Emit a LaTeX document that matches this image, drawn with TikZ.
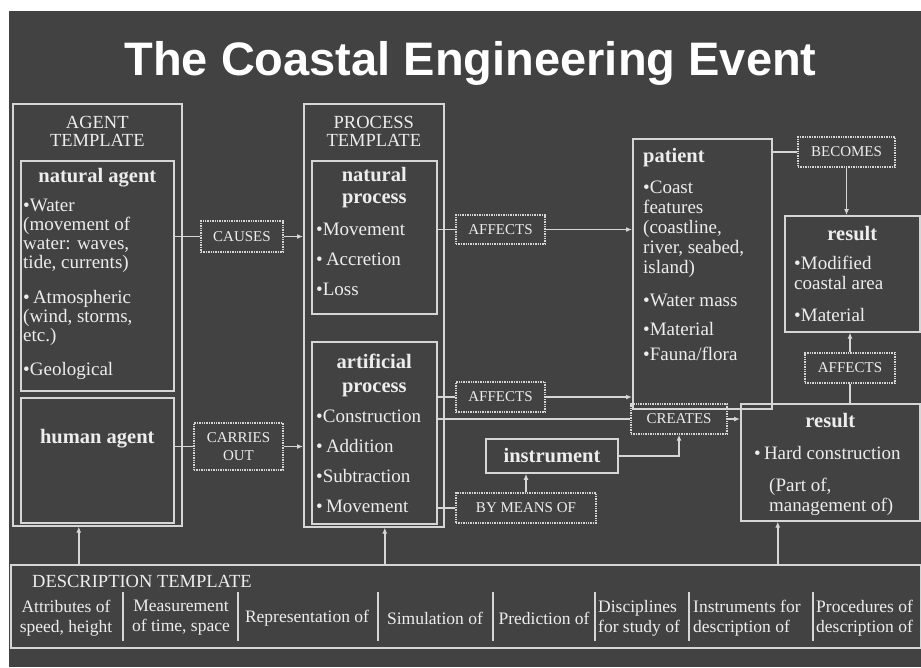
\documentclass[tikz,border=0pt]{standalone}
\usepackage{fontspec}
\setmainfont{Liberation Serif}
\newfontfamily\titlefamily{Liberation Sans}
\usetikzlibrary{arrows.meta,positioning}
\definecolor{CEBack}{HTML}{424242}
\definecolor{CELine}{HTML}{D6D6D6}
\definecolor{CEText}{HTML}{EDEDED}
\newcommand\CEtitle{\titlefamily\bfseries\fontsize{47}{50}\selectfont}
\newcommand\CEcaps{\fontsize{18.5}{18}\selectfont}
\newcommand\CEhead{\bfseries\fontsize{20.5}{22}\selectfont}
\newcommand\CEbody{\fontsize{19}{19}\selectfont}
\newcommand\CErel{\fontsize{15}{18}\selectfont}
\newcommand\CEcell{\fontsize{17.5}{20}\selectfont}

\begin{document}
\begin{tikzpicture}[x=1pt,y=-1pt,
  tbox/.style={draw=CELine,line width=1.6pt,inner sep=0pt,anchor=north west},
  rel/.style={draw=CELine,densely dotted,line width=1.4pt,inner sep=0pt,font=\CErel,text=CEText,align=center},
  hd/.style={font=\CEhead,text=CEText,inner sep=0pt,align=center},
  capslbl/.style={font=\CEcaps,text=CEText,inner sep=0pt,align=center,anchor=north},
  items/.style={font=\CEbody,text=CEText,inner sep=0pt,align=left,anchor=north west},
  cell/.style={font=\CEcell,text=CEText,inner sep=0pt},
  conn/.style={draw=CELine,line width=1.4pt},
  arr/.style={conn,-{Latex[length=6pt,width=5pt]}}
]
  \useasboundingbox (0,0) rectangle (921,667);
  \fill[white] (0,0) rectangle (921,667);
  \fill[CEBack] (9,11) rectangle (921,667);
  \node[font=\CEtitle,text=white,anchor=base] (title) at (470.5,75) {The Coastal Engineering Event};

  % agent template
  \node[tbox,minimum width=169,minimum height=422] (agent) at (12,103) {};
  \node[capslbl] (agentlbl) at ([yshift=-13pt]agent.north) {AGENT\\TEMPLATE};
  \node[tbox,minimum width=153,minimum height=230] (natagent) at (20,160) {};
  \node[hd,anchor=base] (natagenthd) at ([yshift=-22pt]natagent.north) {natural agent};
  \node[items] (natagentlist) at ([shift={(3,39)}]natagent.north west) {•Water\\(movement of\\water: waves,\\tide, currents)\\[16pt]•\,Atmospheric\\(wind, storms,\\etc.)\\[15pt]•Geological};
  \node[tbox,minimum width=153,minimum height=125] (humagent) at (20,397) {};
  \node[hd,anchor=base] (humagenthd) at ([yshift=-46pt]humagent.north) {human agent};

  % process template
  \node[tbox,minimum width=140,minimum height=423] (proc) at (303,103) {};
  \node[capslbl] (proclbl) at ([yshift=-13pt]proc.north) {PROCESS\\TEMPLATE};
  \node[tbox,minimum width=125,minimum height=153] (natproc) at (311,160) {};
  \node[hd,anchor=north] (natprochd) at ([yshift=-7pt]natproc.north) {natural\\process};
  \node[items,font=\fontsize{19}{30}\selectfont] (natproclist) at ([shift={(5,63)}]natproc.north west) {•Movement\\•\,Accretion\\•Loss};
  \node[tbox,minimum width=125,minimum height=182] (artproc) at (311,341) {};
  \node[hd,anchor=north,font=\bfseries\fontsize{20.5}{24}\selectfont] (artprochd) at ([yshift=-13pt]artproc.north) {artificial\\process};
  \node[items,font=\fontsize{19}{30}\selectfont] (artproclist) at ([shift={(5,69)}]artproc.north west) {•Construction\\•\,Addition\\•Subtraction\\•\,Movement};

  % relations
  \node[rel,minimum width=82,minimum height=31] (causes) at (242,236.5) {CAUSES};
  \node[rel,minimum width=89,minimum height=47] (carries) at (238.5,446.5) {CARRIES\\OUT};
  \node[rel,minimum width=89,minimum height=29] (affnat) at (500.5,229.5) {AFFECTS};
  \node[rel,minimum width=89,minimum height=30] (affart) at (500.5,397) {AFFECTS};
  \node[rel,minimum width=140,minimum height=30] (bymeans) at (526,508) {BY MEANS OF};
  \node[rel,minimum width=96,minimum height=30] (creates) at (679,419) {CREATES};
  \node[rel,minimum width=97,minimum height=30] (becomes) at (846.5,152) {BECOMES};
  \node[rel,minimum width=90,minimum height=30] (affres) at (850,368) {AFFECTS};

  \node[tbox,anchor=center,minimum width=132,minimum height=34,font=\CEhead,text=CEText] (instr) at (552,456) {instrument};

  % patient and results
  \node[tbox,minimum width=139,minimum height=270] (patient) at (632,138) {};
  \node[hd,anchor=base west] (patienthd) at ([shift={(11,24)}]patient.north west) {patient};
  \node[items,font=\fontsize{19}{20}\selectfont] (patientlist) at ([shift={(11,43)}]patient.north west) {•Coast\\features\\(coastline,\\river, seabed,\\island)\\[13pt]•Water mass\\[9pt]•Material\\[5pt]•Fauna/flora};
  \node[tbox,minimum width=135,minimum height=116] (resmod) at (784,215) {};
  \node[hd,anchor=base] (resmodhd) at ([yshift=-25pt]resmod.north) {result};
  \node[items,font=\fontsize{19}{20}\selectfont] (resmodlist) at ([shift={(10,41)}]resmod.north west) {•Modified\\coastal area\\[12pt]•Material};
  \node[tbox,minimum width=179,minimum height=117] (reshard) at (740,403) {};
  \node[hd,anchor=base] (reshardhd) at ([yshift=-24pt]reshard.north) {result};
  \node[items,font=\fontsize{19}{20}\selectfont] (reshardlist) at ([shift={(14,43)}]reshard.north west) {•\,Hard construction\\[12pt]\hspace*{15pt}(Part of,\\\hspace*{15pt}management of)};

  % description template
  \node[tbox,minimum width=910,minimum height=83] (desc) at (10,564) {};
  \node[font=\CEcaps,text=CEText,inner sep=0pt,anchor=base west] (desclbl) at ([shift={(22,23)}]desc.north west) {DESCRIPTION TEMPLATE};
  \foreach \sx in {123,238,378,493,595,689,813} \draw[conn,line width=1.2pt] (\sx,592) -- (\sx,641);
  \foreach \cx/\ctext [count=\ci] in {66/{Attributes of\\speed, height},181/{Measurement\\of time, space},307/{Representation of},435/{Simulation of},544/{Prediction of}}
    \node[cell,align=center] (cell\ci) at (\cx,618) {\ctext};
  \foreach \cx/\ctext [count=\ci from 6] in {598/{Disciplines\\for study of},693/{Instruments for\\description of},816/{Procedures of\\description of}}
    \node[cell,align=left,anchor=west] (cell\ci) at (\cx,618) {\ctext};

  % connectors
  \draw[conn] (causes.west -| natagent.east) -- (causes.west);
  \draw[arr] (causes.east) -- (causes.east -| proc.west);
  \draw[conn] (carries.west -| humagent.east) -- (carries.west);
  \draw[arr] (carries.east) -- (carries.east -| proc.west);
  \draw[conn] (affnat.west -| natproc.east) -- (affnat.west);
  \draw[arr] (affnat.east) -- (affnat.east -| patient.west);
  \draw[conn] (affart.west -| artproc.east) -- (affart.west);
  \draw[arr] (affart.east) -- (affart.east -| patient.west);
  \draw[conn] (creates.west -| artproc.east) -- (creates.west);
  \draw[arr] (creates.east) -- (creates.east -| reshard.west);
  \draw[conn] (bymeans.west -| artproc.east) -- (bymeans.west);
  \draw[arr] (bymeans.north) -- (bymeans.north |- instr.south);
  \draw[arr] (instr.east) -| (creates.south);
  \draw[conn] (becomes.west -| patient.east) -- (becomes.west);
  \draw[arr] (becomes.south) -- (becomes.south |- resmod.north);
  \draw[arr] (affres.north) -- (affres.north |- resmod.south);
  \draw[conn] (affres.south) -- (affres.south |- reshard.north);
  \draw[arr] ([xshift=-18.5pt]agent.south |- desc.north) -- ([xshift=-18.5pt]agent.south);
  \draw[arr] ([xshift=11pt]proc.south |- desc.north) -- ([xshift=11pt]proc.south);
  \draw[arr] ([xshift=-52.5pt]reshard.south |- desc.north) -- ([xshift=-52.5pt]reshard.south);
\end{tikzpicture}
\end{document}
